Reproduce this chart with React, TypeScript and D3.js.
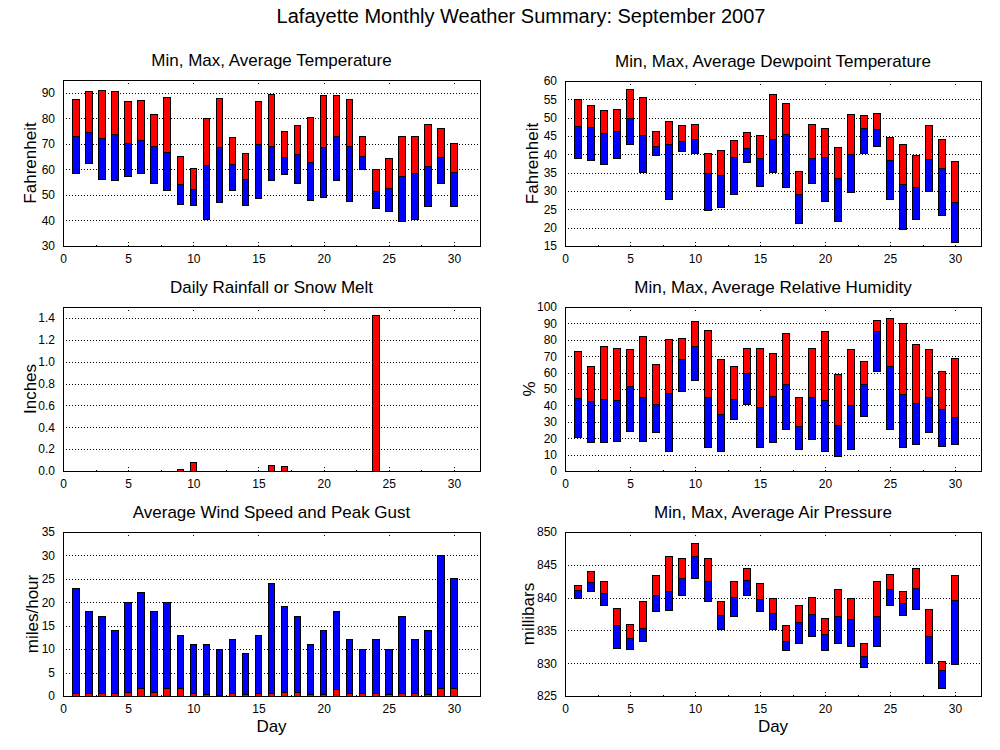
import React, { useEffect, useRef } from 'react';
import * as d3 from 'd3';

// Lafayette, September 2007
const days = [1, 2, 3, 4, 5, 6, 7, 8, 9, 10, 11, 12, 13, 14, 15, 16, 17, 18, 19, 20, 21, 22, 23, 24, 25, 26, 27, 28, 29, 30];

const tempMax = [87.2, 90.4, 90.8, 90.4, 86.5, 86.8, 81.3, 88.0, 65.2, 60.3, 79.8, 87.6, 72.3, 66.4, 86.5, 89.2, 75.0, 77.0, 80.2, 88.8, 88.8, 87.2, 72.7, 60.1, 64.4, 72.7, 72.7, 77.4, 76.2, 70.3];
const tempAvg = [72.7, 74.6, 71.9, 73.5, 70.2, 71.5, 69.1, 66.8, 54.2, 52.2, 61.6, 68.7, 62.0, 56.1, 69.9, 69.1, 64.8, 66.0, 62.8, 68.7, 72.7, 69.1, 65.2, 51.4, 52.6, 57.3, 58.5, 61.2, 64.8, 58.9];
const tempMin = [58.4, 62.4, 56.1, 55.6, 57.3, 58.4, 54.6, 51.7, 46.1, 45.9, 40.4, 47.1, 51.7, 45.9, 48.5, 55.6, 58.1, 54.6, 47.9, 48.9, 55.6, 47.5, 60.1, 44.7, 43.5, 39.6, 40.4, 45.5, 54.6, 45.5];

const dewMax = [55.0, 53.3, 52.0, 52.2, 57.7, 55.5, 46.2, 49.0, 47.9, 48.2, 40.2, 41.0, 43.8, 46.0, 45.1, 56.3, 53.9, 35.3, 48.2, 47.1, 41.9, 50.9, 50.6, 51.2, 44.6, 42.7, 39.7, 47.9, 44.1, 38.0];
const dewAvg = [47.6, 47.3, 45.7, 46.2, 49.8, 45.1, 42.1, 42.7, 43.5, 44.1, 34.8, 34.2, 39.1, 41.6, 38.9, 44.1, 45.4, 29.0, 38.9, 39.1, 33.4, 40.0, 47.1, 46.8, 38.3, 31.8, 30.9, 38.6, 36.1, 26.8];
const dewMin = [38.9, 38.3, 37.2, 38.9, 42.7, 35.0, 39.7, 27.7, 40.8, 40.2, 24.7, 25.5, 29.0, 37.8, 31.2, 35.0, 30.9, 21.1, 32.0, 27.1, 21.6, 29.6, 40.2, 42.1, 27.7, 19.5, 22.2, 29.8, 23.3, 15.9];

const rain = [0, 0, 0, 0, 0, 0, 0, 0, 0.01, 0.076, 0, 0, 0, 0, 0, 0.049, 0.04, 0, 0, 0, 0, 0, 0, 1.418, 0, 0, 0, 0, 0, 0];

const humMax = [73.1, 64.0, 76.1, 74.9, 74.3, 82.2, 65.2, 80.4, 81.0, 91.3, 85.8, 68.2, 64.0, 74.9, 74.9, 71.9, 84.0, 45.1, 74.9, 85.2, 59.1, 74.3, 67.0, 91.9, 93.1, 90.1, 77.3, 74.3, 60.9, 68.8];
const humAvg = [44.5, 42.1, 43.3, 42.7, 51.8, 45.1, 40.3, 47.0, 68.2, 76.1, 45.1, 34.2, 43.3, 59.7, 38.5, 45.7, 53.0, 26.9, 45.1, 42.7, 27.5, 39.7, 53.0, 85.2, 64.0, 46.4, 40.9, 45.1, 37.2, 32.4];
const humMin = [20.2, 17.2, 17.2, 17.8, 23.9, 17.8, 23.3, 11.7, 48.6, 54.9, 14.2, 11.7, 31.2, 40.3, 14.2, 17.2, 25.5, 13.0, 19.0, 11.7, 8.7, 13.0, 33.0, 60.9, 25.5, 14.2, 16.0, 23.3, 14.8, 16.0];

const windGust = [23, 18, 17, 14, 20, 22, 18, 20, 13, 11, 11, 10, 12, 9, 13, 24, 19, 17, 11, 14, 18, 12, 10, 12, 10, 17, 12, 14, 30, 25];
const windAvg = [0.6, 0.6, 0.6, 0.6, 0.85, 1.5, 0.85, 1.7, 1.5, 0.6, 0.4, 0.15, 0.6, 0.4, 0.6, 0.6, 0.85, 0.85, 0.4, 0.4, 1.3, 0.6, 0.6, 0.6, 0.4, 0.6, 0.6, 0.4, 1.7, 1.5];

const presMax = [841.8, 844.0, 842.4, 838.3, 835.9, 839.4, 843.4, 846.2, 845.9, 848.2, 845.9, 839.4, 842.4, 844.4, 842.1, 839.9, 835.8, 838.8, 840.0, 836.8, 841.2, 839.9, 833.0, 842.4, 843.5, 840.9, 844.4, 838.2, 830.3, 843.4];
const presAvg = [841.1, 842.3, 840.6, 835.8, 833.8, 835.3, 840.3, 840.9, 842.9, 846.2, 842.4, 837.3, 840.0, 842.6, 839.7, 837.6, 833.3, 836.2, 837.4, 834.4, 837.1, 836.7, 831.0, 837.1, 841.2, 839.1, 841.4, 834.1, 828.9, 839.6];
const presMin = [839.9, 840.9, 838.8, 832.3, 832.1, 833.3, 837.9, 838.0, 840.3, 842.9, 839.4, 835.1, 837.1, 840.3, 837.9, 835.1, 831.9, 833.0, 834.1, 831.9, 833.0, 832.6, 829.4, 832.6, 838.8, 837.3, 838.2, 830.0, 826.2, 829.8];

const dayTicks = [0, 5, 10, 15, 20, 25, 30];
const minorDayTicks = [2.5, 7.5, 12.5, 17.5, 22.5, 27.5];
const tempTicks = [30, 40, 50, 60, 70, 80, 90];
const dewTicks = [15, 20, 25, 30, 35, 40, 45, 50, 55, 60];
const rainTicks = [0, 0.2, 0.4, 0.6, 0.8, 1.0, 1.2, 1.4];
const humTicks = [0, 10, 20, 30, 40, 50, 60, 70, 80, 90, 100];
const windTicks = [0, 5, 10, 15, 20, 25, 30, 35];
const presTicks = [825, 830, 835, 840, 845, 850];

const FONT = '"Liberation Sans", Arial, Helvetica, sans-serif';
const RED = '#ff0000';
const BLUE = '#0000ff';

type Segment = { day: number; lo: number; hi: number; color: string };

interface Panel {
  title: string;
  label: string;
  labelX: number;
  left: number;
  right: number;
  top: number;
  bottom: number;
  yDomain: [number, number];
  yTicks: number[];
  fmt: (d: number) => string;
  segments: Segment[];
  showDay: boolean;
}

// max -> avg in red, avg -> min in blue
function rangeSegments(max: number[], avg: number[], min: number[]): Segment[] {
  const out: Segment[] = [];
  days.forEach((d, i) => {
    out.push({ day: d, lo: avg[i], hi: max[i], color: RED });
    out.push({ day: d, lo: min[i], hi: avg[i], color: BLUE });
  });
  return out;
}

const panels: Panel[] = [
  {
    title: 'Min, Max, Average Temperature', label: 'Fahrenheit', labelX: 36,
    left: 63, right: 480, top: 80, bottom: 246,
    yDomain: [30, 95], yTicks: tempTicks, fmt: d => String(d),
    segments: rangeSegments(tempMax, tempAvg, tempMin), showDay: false,
  },
  {
    title: 'Min, Max, Average Dewpoint Temperature', label: 'Fahrenheit', labelX: 538,
    left: 565, right: 981, top: 81, bottom: 246,
    yDomain: [15, 60], yTicks: dewTicks, fmt: d => String(d),
    segments: rangeSegments(dewMax, dewAvg, dewMin), showDay: false,
  },
  {
    title: 'Daily Rainfall or Snow Melt', label: 'Inches', labelX: 36,
    left: 63, right: 480, top: 307, bottom: 471,
    yDomain: [0, 1.5], yTicks: rainTicks, fmt: d3.format('.1f'),
    segments: days.map((d, i) => ({ day: d, lo: 0, hi: rain[i], color: RED })).filter(s => s.hi > 0),
    showDay: false,
  },
  {
    title: 'Min, Max, Average Relative Humidity', label: '%', labelX: 535,
    left: 565, right: 981, top: 307, bottom: 471,
    yDomain: [0, 100], yTicks: humTicks, fmt: d => String(d),
    segments: rangeSegments(humMax, humAvg, humMin), showDay: false,
  },
  {
    title: 'Average Wind Speed and Peak Gust', label: 'miles/hour', labelX: 38,
    left: 63, right: 480, top: 532, bottom: 696,
    yDomain: [0, 35], yTicks: windTicks, fmt: d => String(d),
    segments: [
      ...days.map((d, i) => ({ day: d, lo: 0, hi: windGust[i], color: BLUE })),
      ...days.map((d, i) => ({ day: d, lo: 0, hi: windAvg[i], color: RED })),
    ],
    showDay: true,
  },
  {
    title: 'Min, Max, Average Air Pressure', label: 'millibars', labelX: 534,
    left: 565, right: 981, top: 532, bottom: 696,
    yDomain: [825, 850], yTicks: presTicks, fmt: d => String(d),
    segments: rangeSegments(presMax, presAvg, presMin), showDay: true,
  },
];

export default function App() {
  const svgRef = useRef<SVGSVGElement>(null);

  useEffect(() => {
    if (!svgRef.current) return;
    const svg = d3.select(svgRef.current);
    svg.selectAll('*').remove();

    svg.append('rect').attr('width', 1000).attr('height', 750).attr('fill', 'white');

    svg.append('text')
      .attr('x', 521)
      .attr('y', 23)
      .attr('text-anchor', 'middle')
      .attr('font-family', FONT)
      .attr('font-size', 20)
      .text('Lafayette Monthly Weather Summary: September 2007');

    panels.forEach(p => {
      const x = d3.scaleLinear().domain([0, 32]).range([p.left, p.right]);
      const y = d3.scaleLinear().domain(p.yDomain).range([p.bottom, p.top]);
      const g = svg.append('g').attr('shape-rendering', 'crispEdges');

      // dotted horizontal grid
      g.selectAll('line.grid')
        .data(p.yTicks.filter(t => y(t) > p.top + 1 && y(t) < p.bottom - 1))
        .join('line')
        .attr('class', 'grid')
        .attr('x1', p.left)
        .attr('x2', p.right)
        .attr('y1', d => Math.round(y(d)) + 0.5)
        .attr('y2', d => Math.round(y(d)) + 0.5)
        .attr('stroke', 'black')
        .attr('stroke-dasharray', '1,2');

      // dotted x tics on top and bottom border
      const tics = [
        ...dayTicks.map(t => ({ t, len: 6 })),
        ...minorDayTicks.map(t => ({ t, len: 3 })),
      ];
      [[p.bottom, -1], [p.top, 1]].forEach(([edge, dir]) => {
        g.append('g').selectAll('line')
          .data(tics)
          .join('line')
          .attr('x1', d => Math.round(x(d.t)) + 0.5)
          .attr('x2', d => Math.round(x(d.t)) + 0.5)
          .attr('y1', edge)
          .attr('y2', d => edge + dir * d.len)
          .attr('stroke', 'black')
          .attr('stroke-dasharray', '1,2');
      });

      // bars
      g.selectAll('rect.bar')
        .data(p.segments)
        .join('rect')
        .attr('class', 'bar')
        .attr('x', d => x(d.day - 0.25))
        .attr('width', x(0.5) - x(0))
        .attr('y', d => y(d.hi))
        .attr('height', d => Math.max(0, y(d.lo) - y(d.hi)))
        .attr('fill', d => d.color)
        .attr('stroke', 'black')
        .attr('stroke-width', 1);

      // border
      g.append('rect')
        .attr('x', p.left)
        .attr('y', p.top)
        .attr('width', p.right - p.left)
        .attr('height', p.bottom - p.top)
        .attr('fill', 'none')
        .attr('stroke', 'black');

      // axes (labels only)
      const yAxis = svg.append('g')
        .attr('transform', `translate(${p.left},0)`)
        .call(d3.axisLeft(y).tickValues(p.yTicks).tickSize(0).tickPadding(8).tickFormat(d => p.fmt(+d)));
      yAxis.select('.domain').remove();
      yAxis.attr('font-family', FONT).attr('font-size', 12);

      const xAxis = svg.append('g')
        .attr('transform', `translate(0,${p.bottom})`)
        .call(d3.axisBottom(x).tickValues(dayTicks).tickSize(0).tickPadding(8));
      xAxis.select('.domain').remove();
      xAxis.attr('font-family', FONT).attr('font-size', 12);

      svg.append('text')
        .attr('x', (p.left + p.right) / 2)
        .attr('y', p.top - 14)
        .attr('text-anchor', 'middle')
        .attr('font-family', FONT)
        .attr('font-size', 17)
        .text(p.title);

      svg.append('text')
        .attr('transform', `translate(${p.labelX},${(p.top + p.bottom) / 2}) rotate(-90)`)
        .attr('text-anchor', 'middle')
        .attr('font-family', FONT)
        .attr('font-size', 17)
        .text(p.label);

      if (p.showDay) {
        svg.append('text')
          .attr('x', (p.left + p.right) / 2)
          .attr('y', 732)
          .attr('text-anchor', 'middle')
          .attr('font-family', FONT)
          .attr('font-size', 17)
          .text('Day');
      }
    });
  }, []);

  return (
    <svg
      ref={svgRef}
      width={1000}
      height={750}
      style={{ position: 'absolute', left: 0, top: 0, display: 'block' }}
    />
  );
}
